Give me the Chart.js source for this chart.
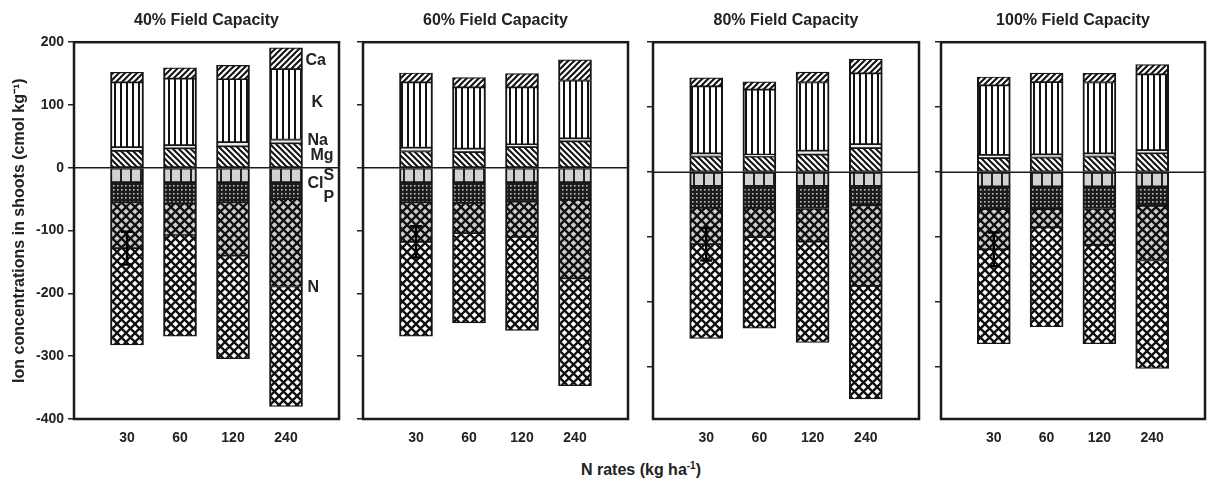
<!DOCTYPE html>
<html>
<head>
<meta charset="utf-8">
<script src="https://cdn.jsdelivr.net/npm/chart.js@4.4.1/dist/chart.umd.min.js"></script>
<style>
  body { margin: 0; background: #fff; width: 1208px; height: 480px; position: relative; overflow: hidden;
         font-family: "Liberation Sans", Arial, sans-serif; }
  canvas { position: absolute; top: 0; }
  #xtitle { position: absolute; left: 491px; width: 300px; top: 460px; text-align: center;
            font: bold 16px "Liberation Sans", Arial, sans-serif; color: #222; line-height: 20px; }
  #xtitle sup { font-size: 10px; line-height: 0; }
</style>
</head>
<body>
<div id="xtitle">N rates (kg ha<sup>-1</sup>)</div>
<script>
// N rates on the x axis, one panel per field capacity level
const rates = ['30', '60', '120', '240'];
const capacities = ['40% Field Capacity', '60% Field Capacity', '80% Field Capacity', '100% Field Capacity'];
const yMins = [-400, -400, -380, -380];
const yMax = 200;

// cations (stacked up from 0) - one row per panel, one value per N rate
const Mg = [[27, 31, 34, 39], [26, 25, 33, 42], [24, 24, 27, 37], [21.5, 22.5, 24, 29]];
const Na = [[6, 5, 7, 6], [6, 5.5, 4.5, 5], [5, 3, 6, 6], [5, 5, 5, 5]];
const K  = [[103, 106, 100, 112], [104, 97.5, 90.5, 92], [103, 100, 105, 109], [107, 111, 109, 116.5]];
const Ca = [[16, 17, 22, 34], [15, 15.5, 22, 33], [13, 12, 16, 22], [13, 14, 14, 15]];

// anions (stacked down from 0)
const S  = [[-23, -23, -23, -23], [-23, -23, -23, -23], [-21, -21, -21, -21], [-22, -22, -22, -22]];
const Cl = [[-32, -34, -32, -27], [-32, -33, -31, -28], [-34, -34, -35, -30], [-35, -35, -34, -30]];
const P  = [[-73, -50, -85, -139], [-63, -48, -56, -125], [-56, -45, -51, -124], [-62, -28, -56, -84]];
const N  = [[-154, -161, -164, -191], [-150, -143, -149, -171], [-145, -140, -155, -174], [-145, -153, -152, -166]];

// error bar on the P/N boundary of the 30 kg bar
const nErr = [26, 25, 25, 26];

const series = { Mg, Na, K, Ca, S, Cl, P, N };
const ionOrder = ['Mg', 'Na', 'K', 'Ca', 'S', 'Cl', 'P', 'N'];

// ion tags next to the 240 bar of the first panel: name, value, nudge (px)
const ionTags = [['Ca', 171, 3], ['K', 104, 9], ['Na', 44, 5], ['Mg', 19, 8],
                 ['S', -12, 21], ['Cl', -24.5, 5], ['P', -48, 21], ['N', -190, 5]];

// ---- fill patterns ----
function tile(size, draw) {
  const c = document.createElement('canvas');
  c.width = size; c.height = size;
  const g = c.getContext('2d');
  draw(g, size);
  return g.createPattern(c, 'repeat');
}
function diag(g, s, up, lw) {
  g.strokeStyle = '#111'; g.lineWidth = lw;
  for (const k of [-s, 0, s]) {
    g.beginPath();
    if (up) { g.moveTo(k - 1, s + 1); g.lineTo(k + s + 1, -1); }
    else { g.moveTo(k - 1, -1); g.lineTo(k + s + 1, s + 1); }
    g.stroke();
  }
}
const fills = {
  Ca: tile(6, (g, s) => { g.fillStyle = '#fff'; g.fillRect(0, 0, s, s); diag(g, s, true, 2); }),
  K: tile(6, (g, s) => { g.fillStyle = '#fff'; g.fillRect(0, 0, s, s); g.fillStyle = '#111'; g.fillRect(0, 0, 2, s); }),
  Na: '#ececec',
  Mg: tile(6, (g, s) => { g.fillStyle = '#fff'; g.fillRect(0, 0, s, s); diag(g, s, false, 2); }),
  S: tile(10, (g, s) => { g.fillStyle = '#d2d2d2'; g.fillRect(0, 0, s, s); g.fillStyle = '#222'; g.fillRect(0, 0, 2, s); }),
  Cl: tile(4, (g, s) => { g.fillStyle = '#1c1c1c'; g.fillRect(0, 0, s, s); g.fillStyle = '#bdbdbd'; g.fillRect(1, 1, 1.6, 1.6); }),
  P: tile(9, (g, s) => { g.fillStyle = '#cfcfcf'; g.fillRect(0, 0, s, s); diag(g, s, true, 2.3); diag(g, s, false, 2.3); }),
  N: tile(9, (g, s) => { g.fillStyle = '#fff'; g.fillRect(0, 0, s, s); diag(g, s, true, 2.3); diag(g, s, false, 2.3); })
};

// ---- panel decorations: frame, zero line, error bar, ion tags ----
const panelDecor = {
  id: 'panelDecor',
  beforeDatasetsDraw(chart) {
    const { ctx, chartArea: a, scales: { y } } = chart;
    const y0 = y.getPixelForValue(0);
    ctx.save();
    ctx.strokeStyle = '#1a1a1a'; ctx.lineWidth = 1.5;
    ctx.beginPath(); ctx.moveTo(a.left, y0); ctx.lineTo(a.right, y0); ctx.stroke();
    ctx.restore();
  },
  afterDatasetsDraw(chart, args, opts) {
    const { ctx, chartArea: a, scales: { x, y } } = chart;
    const p = opts.panel;
    ctx.save();
    ctx.strokeStyle = '#1a1a1a'; ctx.lineWidth = 2.5;
    ctx.strokeRect(a.left, a.top, a.right - a.left, a.bottom - a.top);

    // error bar
    const c = S[p][0] + Cl[p][0] + P[p][0];
    const xe = x.getPixelForValue(1);
    const y1 = y.getPixelForValue(c + nErr[p]), y2 = y.getPixelForValue(c - nErr[p]);
    ctx.strokeStyle = '#000';
    ctx.lineWidth = 2.5;
    ctx.beginPath();
    ctx.moveTo(xe, y1); ctx.lineTo(xe, y2);
    ctx.moveTo(xe - 6, y1); ctx.lineTo(xe + 6, y1);
    ctx.moveTo(xe - 6, y2); ctx.lineTo(xe + 6, y2);
    ctx.stroke();

    if (p === 0) {
      const el = chart.getDatasetMeta(0).data[4];
      const xr = el.x + el.width / 2;
      ctx.fillStyle = '#222';
      ctx.font = 'bold 16px "Liberation Sans", Arial, sans-serif';
      ctx.textAlign = 'left'; ctx.textBaseline = 'middle';
      ionTags.forEach(([t, v, dx]) => ctx.fillText(t, xr + dx, y.getPixelForValue(v)));
    }
    ctx.restore();
  }
};

// canvas left, canvas width, y-axis width, right padding
const frames = [[0, 346, 74, 7], [353, 282, 10, 7], [643, 283, 10, 7], [931, 277, 10, 2]];

Chart.defaults.font.family = '"Liberation Sans", Arial, sans-serif';
Chart.defaults.color = '#222';

capacities.forEach((cap, p) => {
  const [left, width, yw, padR] = frames[p];
  const cv = document.createElement('canvas');
  cv.width = width; cv.height = 480;
  cv.style.left = left + 'px';
  document.body.appendChild(cv);

  new Chart(cv.getContext('2d'), {
    type: 'bar',
    data: {
      labels: ['', ...rates, ''],
      datasets: ionOrder.map(name => ({
        label: name,
        data: [null, ...series[name][p], null],
        backgroundColor: fills[name],
        borderColor: '#151515',
        borderWidth: { left: 2, right: 2, top: 1.2, bottom: 1.2 },
        borderSkipped: false,
        barThickness: 33,
        stack: 'ions'
      }))
    },
    options: {
      responsive: false,
      animation: false,
      devicePixelRatio: 1,
      layout: { padding: { left: 0, right: padR, top: 0, bottom: 0 } },
      plugins: {
        legend: { display: false },
        tooltip: { enabled: false },
        title: {
          display: true, text: cap, fullSize: false,
          font: { size: 16, weight: 'bold' }, color: '#222',
          padding: { top: 11, bottom: 12 }
        },
        panelDecor: { panel: p }
      },
      scales: {
        x: {
          stacked: true,
          offset: false,
          grid: { display: false },
          border: { display: false },
          ticks: { autoSkip: false, maxRotation: 0, padding: 3, font: { size: 14, weight: 'bold' }, color: '#222' },
          afterFit: s => { s.height = 61; }
        },
        y: {
          stacked: true,
          min: yMins[p], max: yMax,
          grid: { drawOnChartArea: false, drawTicks: true, tickLength: 6, color: '#222', lineWidth: 1.5 },
          border: { display: false },
          ticks: { display: p === 0, stepSize: 100, includeBounds: false, padding: 4,
                   font: { size: 14, weight: 'bold' }, color: '#222' },
          title: { display: p === 0, text: 'Ion concentrations in shoots (cmol kg⁻¹)',
                   font: { size: 16, weight: 'bold' }, color: '#222', padding: { top: 10, bottom: 0 } },
          afterFit: s => { s.width = yw; }
        }
      }
    },
    plugins: [panelDecor]
  });
});
</script>
</body>
</html>
